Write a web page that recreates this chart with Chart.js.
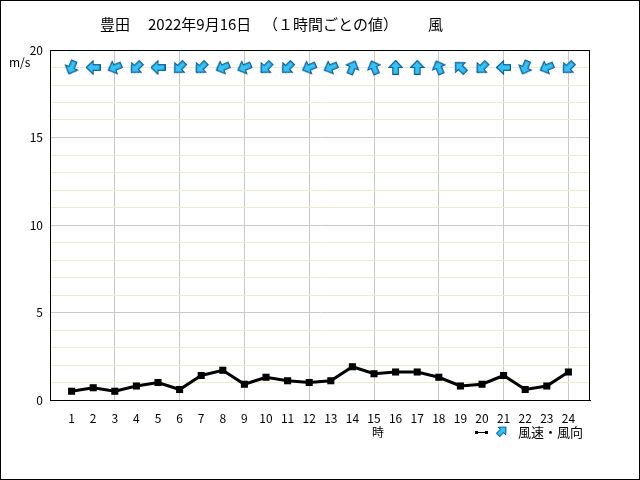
<!DOCTYPE html>
<html>
<head>
<meta charset="utf-8">
<script src="https://cdn.jsdelivr.net/npm/chart.js@4"></script>
<style>
  body { margin: 0; background: #fff; }
  canvas { display: block; }
</style>
</head>
<body>
<canvas id="chart" width="640" height="480"></canvas>
<script>
const hours = [1, 2, 3, 4, 5, 6, 7, 8, 9, 10, 11, 12, 13, 14, 15, 16, 17, 18, 19, 20, 21, 22, 23, 24];
const speeds = [0.5, 0.7, 0.5, 0.8, 1.0, 0.6, 1.4, 1.7, 0.9, 1.3, 1.1, 1.0, 1.1, 1.9, 1.5, 1.6, 1.6, 1.3, 0.8, 0.9, 1.4, 0.6, 0.8, 1.6];
// wind "from" direction for each hour
const directions = ['NNE', 'E', 'ENE', 'NE', 'E', 'NE', 'NE', 'ENE', 'ENE', 'NE', 'NE', 'ENE', 'ENE', 'SSW', 'SSE', 'S', 'S', 'SSE', 'SE', 'NE', 'E', 'NNE', 'ENE', 'NE'];
const yTicks = [0, 5, 10, 15, 20];

const FONT = '"Noto Sans CJK JP", "DejaVu Sans", sans-serif';
const compass = ['N', 'NNE', 'NE', 'ENE', 'E', 'ESE', 'SE', 'SSE', 'S', 'SSW', 'SW', 'WSW', 'W', 'WNW', 'NW', 'NNW'];
const ARROW_ROW = 19;

// arrow pointing straight up, rotated per point
function makeArrow(size) {
  const c = document.createElement('canvas');
  c.width = size;
  c.height = size;
  const g = c.getContext('2d');
  const s = size / 14;
  g.beginPath();
  g.moveTo(7 * s, 0.5 * s);
  g.lineTo(13.3 * s, 7 * s);
  g.lineTo(9.6 * s, 7 * s);
  g.lineTo(9.6 * s, 13.5 * s);
  g.lineTo(4.4 * s, 13.5 * s);
  g.lineTo(4.4 * s, 7 * s);
  g.lineTo(0.7 * s, 7 * s);
  g.closePath();
  g.fillStyle = '#33c4f4';
  g.fill();
  g.strokeStyle = '#0a5a9c';
  g.lineWidth = 1.2;
  g.stroke();
  return c;
}

const arrow = makeArrow(15);
// arrow points where the wind blows to
const rotations = directions.map(d => compass.indexOf(d) * 22.5 + 180);

const decorPlugin = {
  id: 'decor',
  afterDraw: (chart) => {
    const ctx = chart.ctx;
    const a = chart.chartArea;
    ctx.save();
    ctx.strokeStyle = '#000';
    ctx.lineWidth = 1;
    ctx.strokeRect(Math.round(a.left) + 0.5, Math.round(a.top) + 0.5, Math.round(a.right - a.left) - 1, Math.round(a.bottom - a.top));
    ctx.strokeRect(0.5, 0.5, 639, 479);

    ctx.fillStyle = '#000';
    ctx.textBaseline = 'middle';
    ctx.textAlign = 'left';
    ctx.font = '15px ' + FONT;
    ctx.fillText('豊田', 100, 24);
    ctx.fillText('2022年9月16日', 148, 24);
    ctx.fillText('（１時間ごとの値）', 263, 24);
    ctx.fillText('風', 428, 24);

    ctx.font = '12px ' + FONT;
    ctx.fillText('m/s', 9, 62);
    ctx.textAlign = 'center';
    ctx.fillText('時', 378, 432);

    // legend
    ctx.beginPath();
    ctx.moveTo(476, 432.5);
    ctx.lineTo(487, 432.5);
    ctx.stroke();
    ctx.fillRect(475, 431, 3, 3);
    ctx.fillRect(485, 431, 3, 3);
    ctx.save();
    ctx.translate(502, 431);
    ctx.rotate(Math.PI / 4);
    ctx.drawImage(arrow, -6, -6, 12, 12);
    ctx.restore();
    ctx.textAlign = 'left';
    ctx.font = '13px ' + FONT;
    ctx.fillText('風速・風向', 518, 432);
    ctx.restore();
  }
};

new Chart(document.getElementById('chart'), {
  type: 'scatter',
  plugins: [decorPlugin],
  data: {
    datasets: [{
      data: hours.map(h => ({ x: h, y: ARROW_ROW })),
      showLine: false,
      pointStyle: arrow,
      pointRotation: rotations,
      pointRadius: 7
    }, {
      data: hours.map((h, i) => ({ x: h, y: speeds[i] })),
      showLine: true,
      borderColor: '#000',
      borderWidth: 3,
      pointStyle: 'rect',
      pointRadius: 5,
      pointBackgroundColor: '#000',
      pointBorderColor: '#000',
      pointBorderWidth: 0
    }]
  },
  options: {
    responsive: false,
    animation: false,
    layout: { padding: { top: 50, right: 50, left: 0, bottom: 0 } },
    plugins: { legend: { display: false }, tooltip: { enabled: false } },
    scales: {
      x: {
        type: 'linear',
        min: 0,
        max: 25,
        afterFit: (s) => { s.height = 80; },
        border: { display: true, color: '#000', width: 1 },
        grid: {
          drawTicks: false,
          color: (c) => (c.tick.value % 3 === 0 && c.tick.value > 0 && c.tick.value < 25) ? '#c8c8c8' : 'rgba(0,0,0,0)'
        },
        ticks: {
          stepSize: 1,
          autoSkip: false,
          maxRotation: 0,
          padding: 11,
          color: '#000',
          font: { family: FONT, size: 12 },
          callback: (v) => hours.includes(v) ? String(v) : ''
        }
      },
      y: {
        min: 0,
        max: 20,
        afterFit: (s) => { s.width = 50; },
        border: { display: true, color: '#000', width: 1 },
        grid: {
          drawTicks: false,
          color: (c) => yTicks.includes(c.tick.value) ? '#c8c8c8' : '#efe8d4'
        },
        ticks: {
          stepSize: 1,
          autoSkip: false,
          padding: 7,
          color: '#000',
          font: { family: FONT, size: 12 },
          callback: (v) => yTicks.includes(v) ? String(v) : ''
        }
      }
    }
  }
});
</script>
</body>
</html>
